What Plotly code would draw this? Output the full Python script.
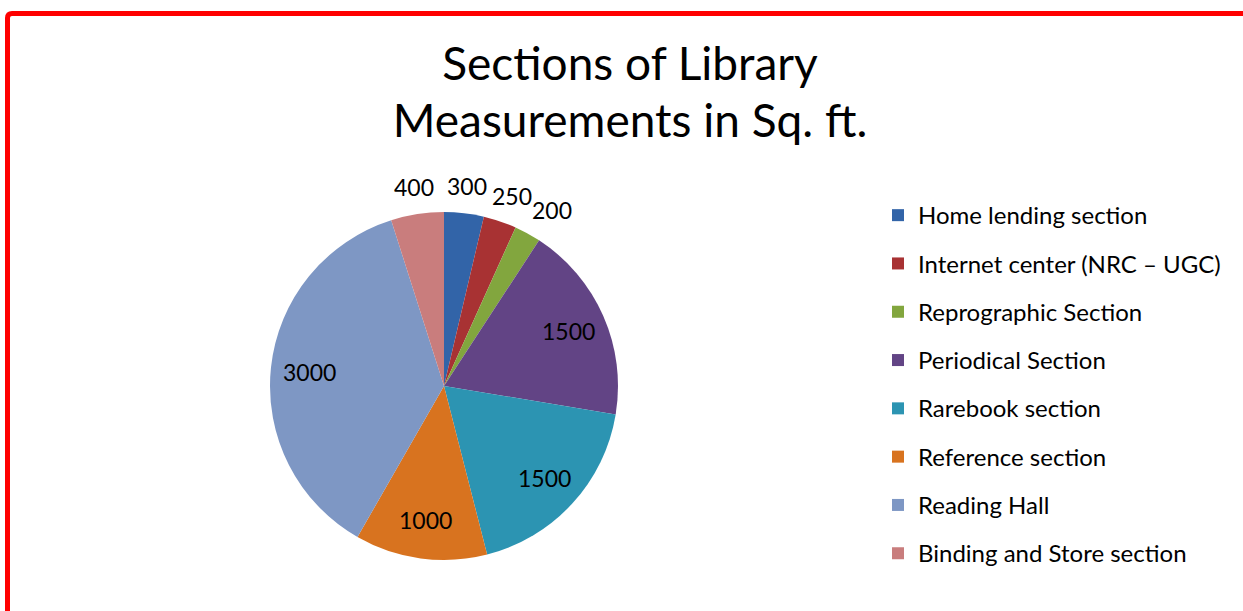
import math
import plotly.graph_objects as go

# data
sections = ["Home lending section", "Internet center (NRC \u2013 UGC)", "Reprographic Section",
            "Periodical Section", "Rarebook section", "Reference section",
            "Reading Hall", "Binding and Store section"]
area_sqft = [300, 250, 200, 1500, 1500, 1000, 3000, 400]
slice_colors = ["#3264a8", "#a83233", "#82a63e", "#624485", "#2c94b2",
                "#d8731f", "#7e97c4", "#c97d7d"]
label_pos = ["outside", "outside", "outside", "inside", "inside", "inside", "inside", "outside"]

W, H = 1243, 611
FONT = "Lato"
CX, CY, R = 444, 386, 174   # pie centre / radius in px

# legend entries get blank lines so each row is ~48px tall like the excel legend
legend_labels = ["&nbsp;<br>&nbsp;<br><span style='font-size:24px'>%s</span><br>&nbsp;" % s for s in sections]

fig = go.Figure(go.Pie(
    labels=legend_labels,
    values=area_sqft,
    sort=False,
    direction="clockwise",
    rotation=0,
    marker=dict(colors=slice_colors, line=dict(width=0)),
    textinfo="none",
    hoverinfo="skip",
    domain=dict(x=[(CX - R) / W, (CX + R) / W], y=[(H - CY - R) / H, (H - CY + R) / H]),
))

# value labels placed excel-style: inside at ~0.78R, outside just past the rim
total = sum(area_sqft)
cum = 0
for v, pos in zip(area_sqft, label_pos):
    a = math.radians((cum + v / 2) / total * 360)
    cum += v
    s, c = math.sin(a), math.cos(a)
    if pos == "inside":
        px, py = CX + 0.78 * R * s, CY - 0.78 * R * c
    else:
        px = CX + (R + 12) * s + s * abs(s) * 80
        py = CY - (R + 12) * c - c * 15
    fig.add_annotation(x=px / W, y=1 - py / H, xref="paper", yref="paper",
                       text=str(v), showarrow=False, xanchor="center", yanchor="middle",
                       font=dict(family=FONT, size=23, color="black"))

# red frame, only top and left edges show
fig.add_shape(type="path", xref="paper", yref="paper",
              path="M %f,%f L %f,%f Q %f,%f %f,%f L %f,%f" % (
                  7.5 / W, -0.1, 7.5 / W, 1 - 18 / H, 7.5 / W, 1 - 13.5 / H,
                  12 / W, 1 - 13.5 / H, 1.1, 1 - 13.5 / H),
              line=dict(color="#ff0000", width=5))

fig.update_layout(
    width=W, height=H,
    margin=dict(l=0, r=0, t=0, b=0),
    paper_bgcolor="white",
    font=dict(family=FONT, color="black"),
    title=dict(text="<span style='font-size:46px'>Sections of Library</span><br>"
                    "<span style='font-size:46px'>Measurements in Sq. ft.</span>",
               font=dict(family=FONT, size=44, color="black"),
               x=630 / W, xanchor="center", y=1 - 80 / H, yanchor="top"),
    legend=dict(x=878 / W, xanchor="left", y=1 - 186 / H, yanchor="top",
                font=dict(family=FONT, size=45.3 / 5.2, color="black"),
                bgcolor="rgba(0,0,0,0)"),
    showlegend=True,
)

fig.write_html("out.html", config={"displayModeBar": False},
               post_script="document.body.style.margin='0';")
